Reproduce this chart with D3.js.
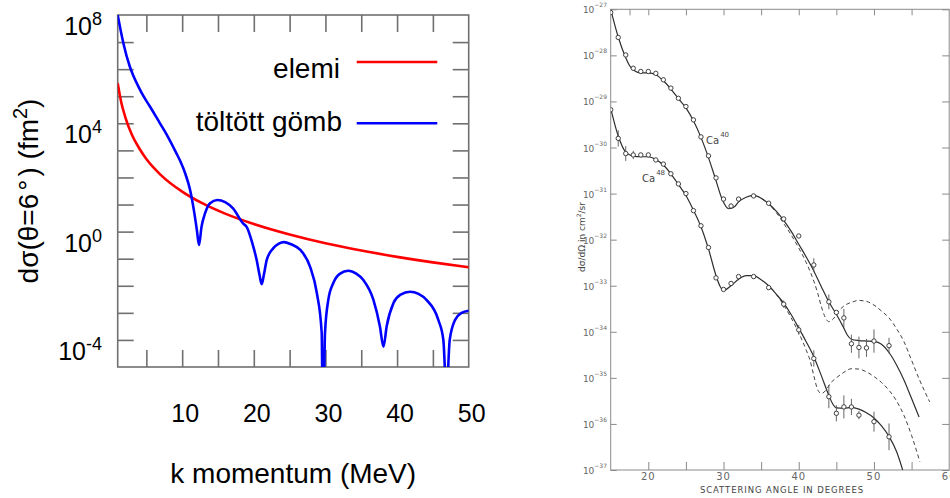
<!DOCTYPE html>
<html>
<head>
<meta charset="utf-8">
<script src="https://cdn.jsdelivr.net/npm/d3@7"></script>
<style>
  body { margin: 0; background: #fff; }
  svg { display: block; }
</style>
</head>
<body>
<svg width="950" height="498"></svg>
<script>
// ---- left panel: d(sigma) at 6 deg vs momentum ----
const elemiK = [1, 1.5, 2, 3, 4, 5, 7, 10, 13, 16, 20, 25, 30, 35, 40, 45, 50];
const elemiSigma = [3.0e5, 5.9e4, 1.9e4, 3.7e3, 1.2e3, 4.8e2, 1.25e2, 30, 10.5, 4.6, 1.9, 0.78, 0.37, 0.20, 0.117, 0.073, 0.048];

const gombK = [1, 1.8, 2.7, 3.2, 4.0, 4.6, 5.5, 6.9, 7.8, 9.2, 9.7,
  10.5, 11.1, 11.7, 12.05, 12.35, 12.7, 13.2, 13.9, 14.9, 16.0,
  17.1, 18.5, 19.0, 19.8, 20.4, 20.8, 21.1, 21.4, 21.8, 22.7,
  23.5, 24.2, 25.2, 26.5, 27.85, 28.8, 29.48, 29.6, 29.75, 29.94,
  30.4, 31.1, 32.0, 33.2, 34.3, 35.3, 36.7, 37.6, 38.1, 38.55,
  39.5, 40.5, 41.8, 43.0, 44.1, 45.76, 46.46, 46.9, 47.35, 48.1,
  49.0, 50];
const gombSigma = [1e8, 8.9e6, 1.23e6, 5.6e5, 2.0e5, 1.0e5, 4.17e4, 1.0e4, 4.0e3, 7.8e2, 4.2e2,
  1.23e2, 35, 4.8, 1.15, 0.32, 1.5, 4.8, 11.2, 14.8, 12.3,
  7.2, 2.0, 1.5, 0.37, 0.089, 0.025, 0.0115, 0.025, 0.089, 0.24,
  0.36, 0.41, 0.34, 0.21, 0.051, 5.4e-3, 1.8e-4, 1e-6, 1e-6, 1.8e-4,
  3.0e-3, 0.0126, 0.0275, 0.036, 0.028, 0.0162, 3.0e-3, 3.2e-4, 5.6e-5, 3.2e-4,
  2.3e-3, 4.7e-3, 6.0e-3, 5.0e-3, 3.0e-3, 5.5e-4, 1.0e-4, 1e-6, 1.0e-4, 5.5e-4,
  1.0e-3, 1.2e-3];

const kTicks = [5, 10, 15, 20, 25, 30, 35, 40, 45];
const kLabels = [10, 20, 30, 40, 50];
const sigmaTicks = [1e-4, 1e-3, 1e-2, 1e-1, 1, 10, 1e2, 1e3, 1e4, 1e5, 1e6, 1e7];
const sigmaLabelExp = [8, 4, 0, -4];

// ---- right panel: Ca40 / Ca48 measured cross sections ----
const ca40Angle = [15, 16, 17, 18, 19, 20, 21, 22, 23, 24, 25, 26, 27, 28, 29, 30, 31, 32, 34, 36, 38, 40, 42, 44, 45, 46, 47, 48, 49, 50, 52];
const ca40Value = [8.5e-28, 2.45e-28, 1.02e-28, 5.25e-29, 4.47e-29, 4.47e-29, 4.07e-29, 2.95e-29, 1.95e-29, 1.17e-29,
  7.76e-30, 3.98e-30, 1.70e-30, 6.6e-31, 2.19e-31, 7.6e-32, 5.37e-32, 7.6e-32, 8.9e-32, 6.17e-32,
  2.82e-32, 1.2e-32, 2.82e-33, 4.47e-34, 2.63e-34, 2.0e-34, 5.5e-35, 4.57e-35, 4.47e-35, 6.3e-35, 5.0e-35];
const ca40Err = [1, 1, 1, 1, 1, 1, 1, 1, 1, 1, 1, 1, 1, 1, 1, 1.12, 1.12, 1, 1, 1,
  1, 1, 1.4, 1.45, 1, 1.57, 1.57, 1.72, 1.57, 1.79, 1.48];

const ca48Angle = [15, 16, 17, 18, 19, 20, 21, 22, 23, 24, 25, 26, 27, 28, 29, 30, 31, 32, 34, 36, 38, 40, 42, 44, 45, 46, 47, 48, 50, 52];
const ca48Value = [6.6e-30, 1.58e-30, 7.4e-31, 6.9e-31, 6.9e-31, 6.9e-31, 5.37e-31, 4.37e-31, 2.69e-31, 1.62e-31,
  1.0e-31, 4.27e-32, 2.0e-32, 6.76e-33, 1.48e-33, 8.3e-34, 1.12e-33, 1.58e-33, 1.58e-33, 9.1e-34,
  3.98e-34, 1.1e-34, 2.63e-35, 3.9e-36, 1.7e-36, 2.34e-36, 2.34e-36, 1.55e-36, 1.12e-36, 5.25e-37];
const ca48Err = [1, 1.5, 1.45, 1.23, 1, 1, 1, 1, 1, 1, 1, 1, 1, 1, 1, 1, 1, 1, 1, 1,
  1.2, 1.28, 1.5, 1.78, 1.5, 1.78, 1.5, 1.23, 1.65, 1.95];

const ca40FitAngle = [15, 16, 17, 17.5, 18, 19, 20, 21, 22, 23, 24, 25, 26, 27, 28, 29, 29.8, 30.7, 31.5, 32,
  33, 34, 35, 36, 37, 38, 39, 40, 41, 42, 43, 44, 45, 46, 46.5, 47, 48, 49, 50, 51, 52, 53, 54, 55, 56];
const ca40FitValue = [1.0e-27, 2.51e-28, 8.9e-29, 6.03e-29, 4.79e-29, 4.17e-29, 4.17e-29, 3.8e-29, 2.82e-29, 1.86e-29,
  1.15e-29, 7.24e-30, 3.8e-30, 1.66e-30, 6.03e-31, 1.91e-31, 7.6e-32, 4.68e-32, 5.25e-32, 6.6e-32,
  8.3e-32, 9.1e-32, 7.94e-32, 6.03e-32, 4.17e-32, 2.63e-32, 1.51e-32, 7.94e-33, 4.17e-33, 2.09e-33,
  9.5e-34, 4.47e-34, 2.4e-34, 1.2e-34, 8.3e-35, 6.9e-35, 6.46e-35, 6.3e-35, 6.17e-35, 5.37e-35,
  3.55e-35, 1.91e-35, 8.9e-36, 3.55e-36, 1.41e-36];

const ca40DashAngle = [35, 36, 37, 38, 39, 40, 41, 42, 42.5, 43, 43.5, 44, 44.6, 45.3, 46, 47, 48, 49, 50, 51, 52, 53, 54, 55, 56, 57.4];
const ca40DashValue = [7.94e-32, 5.89e-32, 3.89e-32, 2.24e-32, 1.26e-32, 6.6e-33, 3.16e-33, 1.26e-33, 7.08e-34, 3.55e-34,
  2.09e-34, 1.66e-34, 1.91e-34, 2.82e-34, 3.63e-34, 4.37e-34, 4.79e-34, 4.57e-34, 3.8e-34, 2.82e-34,
  2.0e-34, 1.17e-34, 6.03e-35, 2.4e-35, 9.5e-36, 3.02e-36];

const ca48FitAngle = [15, 16, 17, 18, 19, 20, 21, 22, 23, 24, 25, 26, 27, 28, 29, 29.5, 30, 31, 32, 33,
  34, 35, 36, 37, 38, 39, 40, 41, 42, 43, 44, 44.5, 45, 46, 47, 48, 49, 50, 51, 52, 53, 54];
const ca48FitValue = [7.08e-30, 1.78e-30, 7.94e-31, 6.46e-31, 6.3e-31, 6.3e-31, 5.5e-31, 4.17e-31, 2.69e-31, 1.58e-31,
  9.1e-32, 4.37e-32, 1.91e-32, 6.3e-33, 1.66e-33, 1.0e-33, 7.94e-34, 1.0e-33, 1.38e-33, 1.66e-33,
  1.66e-33, 1.35e-33, 1.0e-33, 6.6e-34, 4.17e-34, 2.34e-34, 1.2e-34, 6.03e-35, 2.88e-35, 1.12e-35,
  4.17e-36, 2.75e-36, 2.24e-36, 2.19e-36, 2.29e-36, 2.09e-36, 1.74e-36, 1.35e-36, 9.1e-37, 5.37e-37,
  2.51e-37, 7.94e-38];

const ca48DashAngle = [37, 38, 39, 40, 41, 41.5, 42, 42.5, 43, 43.6, 44.2, 45, 46, 47, 48, 49, 50, 51, 52, 53, 54, 55, 56.1];
const ca48DashValue = [6.6e-34, 3.8e-34, 2.0e-34, 9.5e-35, 3.98e-35, 2.4e-35, 1.12e-35, 5.62e-36, 4.57e-36, 5.37e-36,
  7.59e-36, 1.0e-35, 1.32e-35, 1.58e-35, 1.55e-35, 1.35e-35, 1.07e-35, 7.94e-36, 5.37e-36, 3.16e-36,
  1.51e-36, 5.62e-37, 1.51e-37];

const angleTicks = [20, 25, 30, 35, 40, 45, 50, 55];
const angleTopTicks = [17.5, 20, 25, 30, 35, 40, 45, 50, 55];
const angleLabels = [20, 30, 40, 50, 60];
const caLabelExp = [-27, -28, -29, -30, -31, -32, -33, -34, -35, -36, -37];

const svg = d3.select('svg');

// ================= left panel =================
const left = svg.append('g');
const font = '"Liberation Sans", Arial, Helvetica, sans-serif';
const frameGrey = '#707070';

const x = d3.scaleLinear().domain([1, 50]).range([117.7, 468.7]);
const y = d3.scaleLog().domain([1e-5, 1e8]).range([367, 15]);

left.append('clipPath').attr('id', 'clipL')
  .append('rect')
  .attr('x', x(1)).attr('y', y(1e8))
  .attr('width', x(50) - x(1)).attr('height', y(1e-5) - y(1e8));

// inward ticks on all four sides
const tickStyle = g => {
  g.select('.domain').remove();
  g.selectAll('.tick line').attr('stroke', frameGrey).attr('stroke-width', 1.6);
  g.selectAll('.tick text').remove();
};
left.append('g').attr('transform', `translate(0,${y(1e-5)})`)
  .call(d3.axisBottom(x).tickValues(kTicks).tickSize(-17)).call(tickStyle);
left.append('g').attr('transform', `translate(0,${y(1e8)})`)
  .call(d3.axisTop(x).tickValues(kTicks).tickSize(-17)).call(tickStyle);
left.append('g').attr('transform', `translate(${x(1)},0)`)
  .call(d3.axisLeft(y).tickValues(sigmaTicks).tickSize(-16)).call(tickStyle);
left.append('g').attr('transform', `translate(${x(50)},0)`)
  .call(d3.axisRight(y).tickValues(sigmaTicks).tickSize(-16)).call(tickStyle);

left.append('rect')
  .attr('x', x(1)).attr('y', y(1e8))
  .attr('width', x(50) - x(1)).attr('height', y(1e-5) - y(1e8))
  .attr('fill', 'none').attr('stroke', frameGrey).attr('stroke-width', 1.6);

// tick labels
left.selectAll('.xlab').data(kLabels).enter().append('text')
  .attr('x', d => x(d) + 3).attr('y', 422)
  .attr('text-anchor', 'middle')
  .attr('font-family', font).attr('font-size', 25)
  .text(d => d);

const ylab = left.selectAll('.ylab').data(sigmaLabelExp).enter().append('text')
  .attr('x', 102).attr('y', d => y(Math.pow(10, d)) + 20)
  .attr('text-anchor', 'end')
  .attr('font-family', font).attr('font-size', 25);
ylab.append('tspan').text('10');
ylab.append('tspan').attr('dy', -10).attr('font-size', 18).text(d => d);

// axis titles
left.append('text')
  .attr('x', (x(1) + x(50)) / 2).attr('y', 483)
  .attr('text-anchor', 'middle')
  .attr('font-family', font).attr('font-size', 28)
  .text('k momentum (MeV)');

const ytitle = left.append('text')
  .attr('transform', `translate(38,${(y(1e8) + y(1e-5)) / 2}) rotate(-90)`)
  .attr('text-anchor', 'middle')
  .attr('font-family', font).attr('font-size', 28);
ytitle.append('tspan').text('dσ(θ=6');
ytitle.append('tspan').attr('dx', 3).text('°');
ytitle.append('tspan').attr('dx', 3).text(') (fm');
ytitle.append('tspan').attr('dy', -11).attr('font-size', 20).text('2');
ytitle.append('tspan').attr('dy', 11).text(')');

// curves
const lineL = d3.line()
  .x(d => x(d[0]))
  .y(d => y(d[1]))
  .curve(d3.curveMonotoneX);

const curves = left.append('g').attr('clip-path', 'url(#clipL)');
curves.append('path')
  .datum(d3.zip(elemiK, elemiSigma))
  .attr('d', lineL)
  .attr('fill', 'none').attr('stroke', '#ff0000').attr('stroke-width', 2.6);
curves.append('path')
  .datum(d3.zip(gombK, gombSigma))
  .attr('d', lineL)
  .attr('fill', 'none').attr('stroke', '#0000ff').attr('stroke-width', 2.6);

// legend
left.append('text').attr('x', 340).attr('y', 78).attr('text-anchor', 'end')
  .attr('font-family', font).attr('font-size', 28).text('elemi');
left.append('line').attr('x1', 356.7).attr('x2', 437.3).attr('y1', 62).attr('y2', 62)
  .attr('stroke', '#ff0000').attr('stroke-width', 2.6);
left.append('text').attr('x', 342).attr('y', 131).attr('text-anchor', 'end')
  .attr('font-family', font).attr('font-size', 28).text('töltött gömb');
left.append('line').attr('x1', 356.7).attr('x2', 437.3).attr('y1', 123.3).attr('y2', 123.3)
  .attr('stroke', '#0000ff').attr('stroke-width', 2.6);

// ================= right panel (scanned figure) =================
const right = svg.append('g');
const ink = '#2e2e2e';
const axisInk = '#8a8a8a';
const labelInk = '#666';

const xr = d3.scaleLinear().domain([15, 60]).range([610.7, 949.2]);
const yr = d3.scaleLog().domain([1e-37, 1e-27]).range([470, 9.3]);

right.append('clipPath').attr('id', 'clipR')
  .append('rect')
  .attr('x', xr(15)).attr('y', 0)
  .attr('width', xr(60) - xr(15)).attr('height', yr(1e-37));

const thinTicks = g => {
  g.select('.domain').remove();
  g.selectAll('.tick line').attr('stroke', axisInk).attr('stroke-width', 1);
  g.selectAll('.tick text').remove();
};
const decades = caLabelExp.map(e => Math.pow(10, e));
right.append('g').attr('transform', `translate(0,${yr(1e-37)})`)
  .call(d3.axisBottom(xr).tickValues(angleTicks).tickSize(-8)).call(thinTicks);
right.append('g').attr('transform', `translate(0,${yr(1e-27)})`)
  .call(d3.axisTop(xr).tickValues(angleTopTicks).tickSize(-6)).call(thinTicks);
right.append('g').attr('transform', `translate(${xr(15)},0)`)
  .call(d3.axisLeft(yr).tickValues(decades).tickSize(-6)).call(thinTicks);
right.append('g').attr('transform', `translate(${xr(60)},0)`)
  .call(d3.axisRight(yr).tickValues(decades).tickSize(-7)).call(thinTicks);

right.append('rect')
  .attr('x', xr(15)).attr('y', yr(1e-27))
  .attr('width', xr(60) - xr(15)).attr('height', yr(1e-37) - yr(1e-27))
  .attr('fill', 'none').attr('stroke', axisInk).attr('stroke-width', 1);

const rfont = '"DejaVu Sans", "Liberation Sans", sans-serif';

const rylab = right.selectAll('.rylab').data(caLabelExp).enter().append('text')
  .attr('x', 607).attr('y', d => yr(Math.pow(10, d)) + 4)
  .attr('text-anchor', 'end')
  .attr('font-family', rfont).attr('font-size', 9).attr('fill', labelInk);
rylab.append('tspan').text('10');
rylab.append('tspan').attr('dy', -6).attr('font-size', 6).text(d => '−' + Math.abs(d));

right.selectAll('.rxlab').data(angleLabels).enter().append('text')
  .attr('x', d => xr(d)).attr('y', 480)
  .attr('text-anchor', 'middle')
  .attr('font-family', rfont).attr('font-size', 10).attr('letter-spacing', 1)
  .attr('fill', labelInk)
  .text(d => d);

right.append('text')
  .attr('x', 782).attr('y', 493)
  .attr('text-anchor', 'middle')
  .attr('font-family', rfont).attr('font-size', 8.5).attr('letter-spacing', 0.9)
  .attr('fill', '#444')
  .text('SCATTERING ANGLE IN DEGREES');

const rytitle = right.append('text')
  .attr('transform', 'translate(585,237) rotate(-90)')
  .attr('text-anchor', 'middle')
  .attr('font-family', rfont).attr('font-size', 9).attr('fill', '#444');
rytitle.append('tspan').text('dσ/dΩ in cm');
rytitle.append('tspan').attr('dy', -4).attr('font-size', 6).text('2');
rytitle.append('tspan').attr('dy', 4).text('/sr');

// isotope labels
const caLabel = (tx, ty, mass) => {
  const t = right.append('text').attr('x', tx).attr('y', ty)
    .attr('font-family', rfont).attr('font-size', 10).attr('fill', '#444');
  t.append('tspan').text('Ca');
  t.append('tspan').attr('dy', -7).attr('dx', 1).attr('font-size', 7).text(mass);
};
caLabel(706, 144, '40');
caLabel(642, 182, '48');

// fitted curves
const lineR = d3.line()
  .x(d => xr(d[0]))
  .y(d => yr(d[1]))
  .curve(d3.curveMonotoneX);

const rc = right.append('g').attr('clip-path', 'url(#clipR)');
[[ca40FitAngle, ca40FitValue, null], [ca48FitAngle, ca48FitValue, null],
 [ca40DashAngle, ca40DashValue, '4,3'], [ca48DashAngle, ca48DashValue, '4,3']]
  .forEach(([a, v, dash]) => {
    rc.append('path')
      .datum(d3.zip(a, v))
      .attr('d', lineR)
      .attr('fill', 'none')
      .attr('stroke', ink)
      .attr('stroke-width', dash ? 0.9 : 1.2)
      .attr('stroke-dasharray', dash);
  });

// measured points with error bars
const drawPoints = (angles, values, errs) => {
  const pts = d3.zip(angles, values, errs);
  rc.selectAll(null).data(pts.filter(d => d[2] > 1)).enter().append('line')
    .attr('x1', d => xr(d[0])).attr('x2', d => xr(d[0]))
    .attr('y1', d => yr(d[1] * d[2])).attr('y2', d => yr(d[1] / d[2]))
    .attr('stroke', '#555').attr('stroke-width', 0.9);
  rc.selectAll(null).data(pts).enter().append('circle')
    .attr('cx', d => xr(d[0])).attr('cy', d => yr(d[1]))
    .attr('r', 2.2)
    .attr('fill', '#fff').attr('stroke', ink).attr('stroke-width', 0.9);
};
drawPoints(ca40Angle, ca40Value, ca40Err);
drawPoints(ca48Angle, ca48Value, ca48Err);
</script>
</body>
</html>
